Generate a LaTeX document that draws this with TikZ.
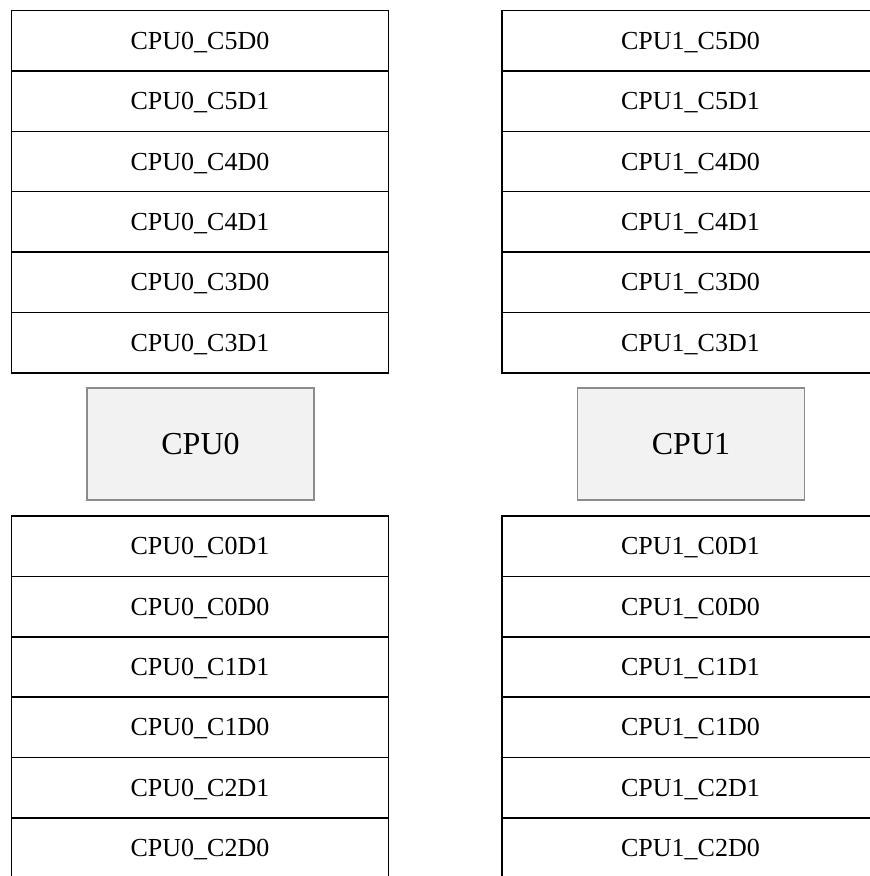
\documentclass[tikz,border=0pt]{standalone}
\usepackage{fontspec}
\setmainfont{Liberation Serif}
\usepackage{tikz}
\usepackage{xcolor}
\definecolor{chipfill}{HTML}{F2F2F2}
\definecolor{chipline}{HTML}{8C8C8C}

\tikzset{
  slot/.style={draw, line width=1.5pt, minimum width=377pt, minimum height=60.4pt,
    inner sep=0pt, text height=17pt, text depth=0pt, font=\fontsize{26}{30}\selectfont},
  chip/.style={draw=chipline, fill=chipfill, line width=1.6pt, minimum width=227pt,
    minimum height=112pt, inner sep=0pt, text height=21pt, text depth=0pt,
    font=\fontsize{32}{36}\selectfont}
}

\begin{document}
\begin{tikzpicture}[x=1pt,y=-1pt]
  \useasboundingbox (0,0) rectangle (870,876);
  \clip (0,0) rectangle (870,876);
  % upper slots, CPU0
  \node[slot] (a0) at (200,40.7) {CPU0\_C5D0};
  \node[slot] (a1) at (200,101.1) {CPU0\_C5D1};
  \node[slot] (a2) at (200,161.5) {CPU0\_C4D0};
  \node[slot] (a3) at (200,221.9) {CPU0\_C4D1};
  \node[slot] (a4) at (200,282.3) {CPU0\_C3D0};
  \node[slot] (a5) at (200,342.7) {CPU0\_C3D1};
  % upper slots, CPU1
  \node[slot] (b0) at (690.5,40.7) {CPU1\_C5D0};
  \node[slot] (b1) at (690.5,101.1) {CPU1\_C5D1};
  \node[slot] (b2) at (690.5,161.5) {CPU1\_C4D0};
  \node[slot] (b3) at (690.5,221.9) {CPU1\_C4D1};
  \node[slot] (b4) at (690.5,282.3) {CPU1\_C3D0};
  \node[slot] (b5) at (690.5,342.7) {CPU1\_C3D1};
  % the two sockets
  \node[chip] (cpu0) at (200.5,444) {CPU0};
  \node[chip] (cpu1) at (691,444) {CPU1};
  % lower slots, CPU0
  \node[slot] (c0) at (200,546.2) {CPU0\_C0D1};
  \node[slot] (c1) at (200,606.6) {CPU0\_C0D0};
  \node[slot] (c2) at (200,667) {CPU0\_C1D1};
  \node[slot] (c3) at (200,727.4) {CPU0\_C1D0};
  \node[slot] (c4) at (200,787.8) {CPU0\_C2D1};
  \node[slot] (c5) at (200,848.2) {CPU0\_C2D0};
  % lower slots, CPU1
  \node[slot] (d0) at (690.5,546.2) {CPU1\_C0D1};
  \node[slot] (d1) at (690.5,606.6) {CPU1\_C0D0};
  \node[slot] (d2) at (690.5,667) {CPU1\_C1D1};
  \node[slot] (d3) at (690.5,727.4) {CPU1\_C1D0};
  \node[slot] (d4) at (690.5,787.8) {CPU1\_C2D1};
  \node[slot] (d5) at (690.5,848.2) {CPU1\_C2D0};
\end{tikzpicture}
\end{document}
